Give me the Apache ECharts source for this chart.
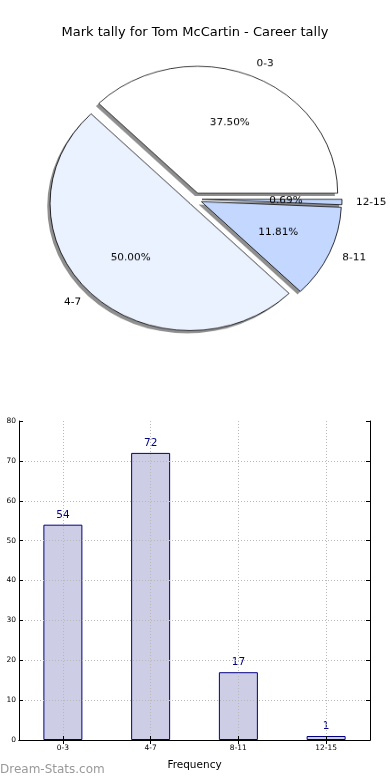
<!DOCTYPE html>
<html>
<head>
<meta charset="utf-8">
<script src="https://cdn.jsdelivr.net/npm/echarts@6/dist/echarts.min.js"></script>
<style>
html,body{margin:0;padding:0;background:#fff;}
#wrap{position:relative;width:390px;height:780px;overflow:hidden;}
#bar{position:absolute;left:0;top:0;width:390px;height:780px;}
#pie{position:absolute;left:0;top:0;width:390px;height:480px;transform:scaleY(0.907);transform-origin:0 0;}
</style>
</head>
<body>
<div id="wrap"><div id="bar"></div><div id="pie"></div></div>
<script>
const titleText = 'Mark tally for Tom McCartin - Career tally';
const categories = ['0-3', '4-7', '8-11', '12-15'];
const counts = [54, 72, 17, 1];
const sliceColors = ['#ffffff', '#ebf2ff', '#c3d7ff', '#c0d5fd'];
const yTicks = { min: 0, max: 80, step: 10 };
const xLabel = 'Frequency';
const watermark = 'Dream-Stats.com';

const FONT = 'DejaVu Sans';
const total = counts.reduce((a, b) => a + b, 0);

// ---------- bar chart + title ----------
const bar = echarts.init(document.getElementById('bar'), null, { renderer: 'canvas' });
const gridHelper = ['0', '1', '2', '3', '4', '5', '6', '7', '8'];
bar.setOption({
  animation: false,
  backgroundColor: '#fff',
  title: {
    text: titleText, left: 'center', top: 21,
    textStyle: { fontFamily: FONT, fontSize: 13, fontWeight: 'normal', color: '#000' }
  },
  graphic: [{
    type: 'text', left: 0, top: 764,
    style: { text: watermark, fontFamily: FONT, fontSize: 12, fill: '#999999', fontWeight: 'normal' }
  }],
  grid: { left: 19, right: 20, top: 421, bottom: 40, show: false },
  xAxis: [{
    type: 'category', data: categories, position: 'bottom',
    name: xLabel, nameLocation: 'middle', nameGap: 20,
    nameTextStyle: { fontFamily: FONT, fontSize: 10.5, color: '#000' },
    axisLine: { lineStyle: { color: '#000', width: 1 } },
    axisTick: { show: true, inside: true, alignWithLabel: true, length: 4, lineStyle: { color: '#000' } },
    axisLabel: { fontFamily: FONT, fontSize: 7.5, color: '#000', margin: 4 },
    splitLine: { show: false },
    z: 5
  }, {
    type: 'category', data: gridHelper, position: 'top', boundaryGap: false,
    axisLine: { lineStyle: { color: '#000', width: 1 } },
    axisTick: { show: true, inside: true, length: 4, interval: (i) => i % 2 === 1, lineStyle: { color: '#000' } },
    axisLabel: { show: false },
    splitLine: { show: true, interval: (i) => i % 2 === 1, lineStyle: { color: '#b8b8b8', type: [1, 2], width: 1 } },
    z: 5
  }],
  yAxis: [{
    type: 'value', min: yTicks.min, max: yTicks.max, interval: yTicks.step, position: 'left',
    axisLine: { show: true, lineStyle: { color: '#000', width: 1 } },
    axisTick: { show: true, inside: true, length: 4, lineStyle: { color: '#000' } },
    axisLabel: { fontFamily: FONT, fontSize: 7.5, color: '#000', margin: 3 },
    splitLine: { show: true, showMinLine: false, showMaxLine: false, lineStyle: { color: '#b8b8b8', type: [1, 2], width: 1 } },
    z: 5
  }, {
    type: 'value', min: yTicks.min, max: yTicks.max, interval: yTicks.step, position: 'right',
    axisLine: { show: true, lineStyle: { color: '#000', width: 1 } },
    axisTick: { show: true, inside: true, length: 4, lineStyle: { color: '#000' } },
    axisLabel: { show: false },
    splitLine: { show: false },
    z: 5
  }],
  series: [{
    type: 'bar', xAxisIndex: 0, yAxisIndex: 0, data: counts, barWidth: 39,
    itemStyle: { color: '#cdcde5', borderColor: '#000080', borderWidth: 1 },
    label: { show: true, position: 'top', distance: 4, fontFamily: FONT, fontSize: 10.5, color: '#000080' },
    emphasis: { disabled: true }
  }]
});

// ---------- pie chart (ellipse via vertical scale of container) ----------
const pie = echarts.init(document.getElementById('pie'), null, { renderer: 'canvas' });
const CX = 195, CY = 219.5, R = 140, EXP = 7;
const SH = 2.8;
const pieData = categories.map((c, i) => ({
  name: c, value: counts[i], selected: true,
  itemStyle: { color: sliceColors[i] }
}));
const shadowData = categories.map((c, i) => ({ name: c, value: counts[i], selected: true }));
const labelData = categories.map((c, i) => ({ name: c, value: counts[i] }));
const common = {
  type: 'pie', startAngle: 0, clockwise: false,
  avoidLabelOverlap: false, animation: false, minAngle: 0,
  emphasis: { disabled: true }, silent: true
};
pie.setOption({
  animation: false,
  backgroundColor: 'transparent',
  series: [
    Object.assign({}, common, {
      center: [CX - SH, CY + SH / 0.907], radius: R, data: shadowData, z: 1,
      selectedMode: 'multiple', selectedOffset: EXP,
      itemStyle: { color: '#8f8f8f', borderWidth: 0 },
      select: { itemStyle: { color: '#8f8f8f', borderWidth: 0 } },
      label: { show: false }, labelLine: { show: false }
    }),
    Object.assign({}, common, {
      center: [CX, CY], radius: R, data: pieData, z: 2,
      selectedMode: 'multiple', selectedOffset: EXP,
      itemStyle: { borderColor: '#000', borderWidth: 0.8 },
      select: { itemStyle: { borderColor: '#000', borderWidth: 0.8 } },
      label: { show: false }, labelLine: { show: false }
    }),
    Object.assign({}, common, {
      center: [CX, CY], radius: 2 * (0.6 * R + EXP - 3), data: labelData, z: 3,
      itemStyle: { color: 'rgba(0,0,0,0)', borderWidth: 0 },
      label: {
        show: true, position: 'inside', fontFamily: FONT, fontSize: 10.5, color: '#000',
        formatter: (p) => (p.value / total * 100).toFixed(2) + '%'
      },
      labelLine: { show: false }
    }),
    Object.assign({}, common, {
      center: [CX, CY], radius: 1.1 * R + EXP, data: labelData, z: 3,
      itemStyle: { color: 'rgba(0,0,0,0)', borderWidth: 0 },
      label: {
        show: true, position: 'outside', distanceToLabelLine: 0,
        fontFamily: FONT, fontSize: 10.5, color: '#000', formatter: '{b}'
      },
      labelLine: { show: false, length: 0, length2: 0 }
    })
  ]
});
</script>
</body>
</html>
